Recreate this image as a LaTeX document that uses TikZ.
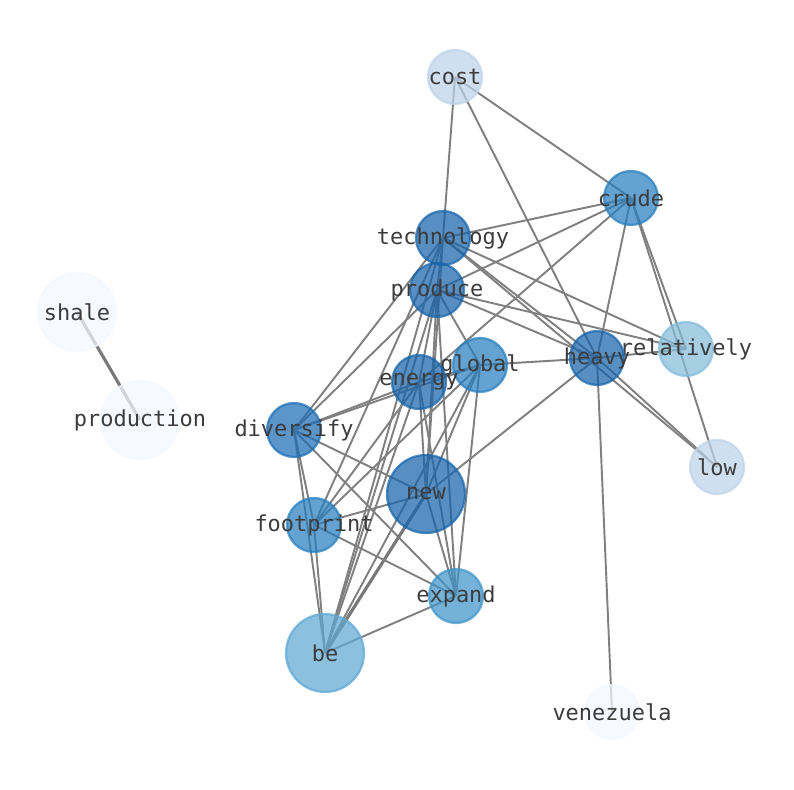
\documentclass[tikz,border=0pt]{standalone}
\usepackage{fontspec}
\newfontfamily\wordfont{DejaVu Sans Mono}
\usetikzlibrary{backgrounds}

\definecolor{bluedark}{HTML}{1764AB}
\definecolor{bluediv}{HTML}{1C6DB6}
\definecolor{bluemid}{HTML}{277EBF}
\definecolor{blueexp}{HTML}{3E94CA}
\definecolor{bluebe}{HTML}{5FA8D3}
\definecolor{bluerel}{HTML}{83BCD8}
\definecolor{bluelight}{HTML}{BCD3E9}
\definecolor{bluepale}{HTML}{F3F8FF}
\definecolor{labelgray}{HTML}{3C3C3C}

\tikzset{
    wordlabel/.style={inner sep=0pt, text=labelgray, opacity=1,
        font=\wordfont\fontsize{12.5}{14}\selectfont},
    word/.style={circle, inner sep=0pt, minimum size=1.08cm, line width=1.3pt,
        draw=#1, fill=#1, opacity=0.72},
    bigword/.style={word=#1, minimum size=1.56cm},
    link/.style={draw=gray, line width=1.1pt},
    heavylink/.style={draw=gray!95!black, line width=1.8pt}
}

\begin{document}
\begin{tikzpicture}[x=0.02cm, y=-0.02cm]
    \useasboundingbox (0,0) rectangle (794,790);

    \node[word=bluelight, label={[wordlabel]center:cost}] (cost) at (455,77) {};
    \node[word=bluemid, label={[wordlabel]center:crude}] (crude) at (631,198) {};
    \node[word=bluedark, label={[wordlabel]center:technology}] (technology) at (443,238) {};
    \node[word=bluedark, label={[wordlabel]center:produce}] (produce) at (437,290) {};
    \node[bigword=bluepale, label={[wordlabel]center:shale}] (shale) at (77,312) {};
    \node[bigword=bluepale, label={[wordlabel]center:production}] (production) at (140,420) {};
    \node[word=bluerel, label={[wordlabel]center:relatively}] (relatively) at (686,349) {};
    \node[word=bluedark, label={[wordlabel]center:heavy}] (heavy) at (597,358) {};
    \node[word=bluemid, label={[wordlabel]center:global}] (global) at (480,365) {};
    \node[word=bluedark, label={[wordlabel]center:energy}] (energy) at (419,382) {};
    \node[word=bluediv, label={[wordlabel]center:diversify}] (diversify) at (294,430) {};
    \node[bigword=bluedark, label={[wordlabel]center:new}] (new) at (426,494) {};
    \node[word=bluelight, label={[wordlabel]center:low}] (low) at (717,467) {};
    \node[word=bluemid, label={[wordlabel]center:footprint}] (footprint) at (314,525) {};
    \node[word=blueexp, label={[wordlabel]center:expand}] (expand) at (456,596) {};
    \node[bigword=bluebe, label={[wordlabel]center:be}] (be) at (325,653) {};
    \node[word=bluepale, label={[wordlabel]center:venezuela}] (venezuela) at (612,712) {};

    \begin{pgfonlayer}{background}
    % cost and crude
    \draw[link] (cost.center) -- (technology.center);
    \draw[link] (cost.center) -- (crude.center);
    \draw[link] (cost.center) -- (heavy.center);
    \draw[link] (crude.center) -- (technology.center);
    \draw[link] (crude.center) -- (produce.center);
    \draw[link] (crude.center) -- (energy.center);
    \draw[link] (crude.center) -- (heavy.center);
    \draw[link] (crude.center) -- (relatively.center);
    \draw[link] (crude.center) -- (low.center);
    % technology
    \draw[link] (technology.center) -- (produce.center);
    \draw[link] (technology.center) -- (relatively.center);
    \draw[link] (technology.center) -- (heavy.center);
    \draw[link] (technology.center) -- (low.center);
    \draw[link] (technology.center) -- (diversify.center);
    \draw[link] (technology.center) -- (footprint.center);
    \draw[link] (technology.center) -- (new.center);
    \draw[link] (technology.center) -- (be.center);
    % produce
    \draw[link] (produce.center) -- (heavy.center);
    \draw[link] (produce.center) -- (relatively.center);
    \draw[link] (produce.center) -- (global.center);
    \draw[link] (produce.center) -- (energy.center);
    \draw[link] (produce.center) -- (diversify.center);
    \draw[link] (produce.center) -- (new.center);
    \draw[link] (produce.center) -- (be.center);
    \draw[link] (produce.center) -- (expand.center);
    % heavy
    \draw[link] (heavy.center) -- (relatively.center);
    \draw[link] (heavy.center) -- (low.center);
    \draw[link] (heavy.center) -- (venezuela.center);
    \draw[link] (heavy.center) -- (global.center);
    \draw[link] (heavy.center) -- (new.center);
    % global and energy
    \draw[link] (global.center) -- (energy.center);
    \draw[link] (global.center) -- (diversify.center);
    \draw[link] (global.center) -- (footprint.center);
    \draw[link] (global.center) -- (new.center);
    \draw[link] (global.center) -- (be.center);
    \draw[link] (global.center) -- (expand.center);
    \draw[link] (energy.center) -- (diversify.center);
    \draw[link] (energy.center) -- (footprint.center);
    \draw[link] (energy.center) -- (new.center);
    \draw[link] (energy.center) -- (be.center);
    \draw[link] (energy.center) -- (expand.center);
    % lower part
    \draw[link] (diversify.center) -- (new.center);
    \draw[link] (diversify.center) -- (footprint.center);
    \draw[link] (diversify.center) -- (be.center);
    \draw[link] (diversify.center) -- (expand.center);
    \draw[link] (new.center) -- (footprint.center);
    \draw[link] (new.center) -- (expand.center);
    \draw[heavylink] (new.center) -- (be.center);
    \draw[link] (footprint.center) -- (expand.center);
    \draw[link] (footprint.center) -- (be.center);
    \draw[link] (expand.center) -- (be.center);
    \draw[heavylink] (shale.center) -- (production.center);
    \end{pgfonlayer}
\end{tikzpicture}
\end{document}
